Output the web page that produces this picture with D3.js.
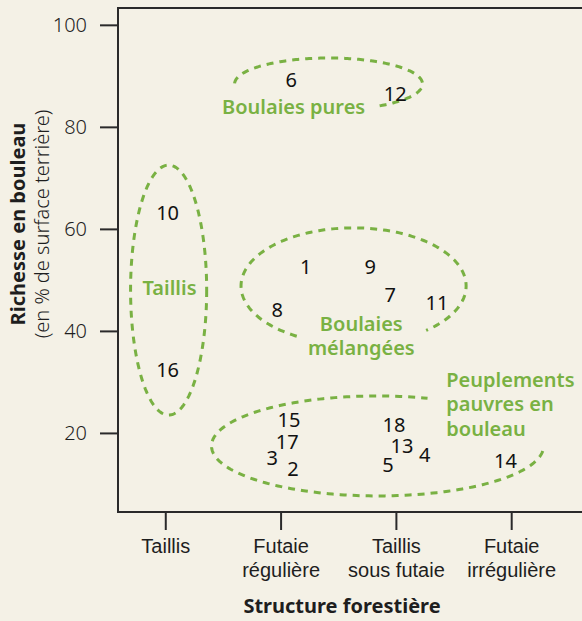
<!DOCTYPE html>
<html><head><meta charset="utf-8">
<script src="https://cdn.jsdelivr.net/npm/d3@7"></script>
<style>
html,body{margin:0;padding:0;background:#f4f1e6;}
svg{display:block;font-family:"Noto Sans",sans-serif;}
</style></head>
<body>
<svg id="chart" width="582" height="621"></svg>
<script>
// ---- data ----
const categories = [["Taillis"], ["Futaie", "régulière"], ["Taillis", "sous futaie"], ["Futaie", "irrégulière"]];
const yTicks = [20, 40, 60, 80, 100];
// stand numbers, position along structure axis (category index + jitter), birch richness (%)
const standIds = [6, 12, 10, 16, 1, 9, 7, 11, 8, 15, 17, 3, 2, 18, 13, 4, 5, 14];
const standX   = [1.093, 1.995, 0.02, 0.02, 1.217, 1.778, 1.951, 2.356, 0.971, 1.072, 1.058, 0.928, 1.107, 1.983, 2.052, 2.249, 1.931, 2.951];
const standY   = [89.2, 86.6, 63.2, 32.4, 52.6, 52.7, 47.1, 45.5, 44.1, 22.7, 18.3, 15.2, 13.1, 21.6, 17.6, 15.7, 13.9, 14.6];
// groups (ellipses in data units)
const groupNames = ["Boulaies pures", "Taillis", "Boulaies mélangées", "Peuplements pauvres en bouleau"];
const groupCx = [1.416, 0.029, 1.633, 1.841];
const groupCy = [88.4, 48.0, 48.8, 17.45];
const groupRx = [0.815, 0.33, 0.976, 1.44];
const groupRy = [5.1, 24.5, 11.4, 9.8];
const groupLabelLines = [["Boulaies pures"], ["Taillis"], ["Boulaies", "mélangées"], ["Peuplements", "pauvres en", "bouleau"]];
const groupLabelX = [1.113, 0.037, 1.70, 2.437];
const groupLabelY = [84.1, 48.6, 41.6, 30.6];

// ---- drawing ----
const W = 582, H = 621;
const green = "#79b143", ink = "#1e1e1e", bg = "#f4f1e6";
const FS = 20;
const svg = d3.select("#chart");
svg.append("rect").attr("width", W).attr("height", H).attr("fill", bg);

const x = d3.scaleLinear().domain([-0.41, 3.614]).range([118, 582]);
const y = d3.scaleLinear().domain([4.5, 103.3]).range([512, 8]);

// frame (left, top, bottom)
svg.append("path")
  .attr("d", `M${W},${y(103.3)}H${x(-0.41)}V${y(4.5)}H${W}`)
  .attr("fill", "none").attr("stroke", "#2a2a2a").attr("stroke-width", 2);

// y axis
const yAxis = svg.append("g").attr("transform", `translate(${x(-0.41)},0)`)
  .call(d3.axisLeft(y).tickValues(yTicks).tickSize(18).tickPadding(13));
yAxis.select(".domain").remove();
yAxis.selectAll(".tick line").attr("stroke", "#2a2a2a").attr("stroke-width", 2);
yAxis.selectAll(".tick text").attr("fill", ink).attr("font-size", FS)
  .attr("font-family", '"Noto Sans",sans-serif').attr("font-weight", 300);

// x axis
const xAxis = svg.append("g").attr("transform", `translate(0,${y(4.5)})`)
  .call(d3.axisBottom(x).tickValues(d3.range(categories.length)).tickSize(18).tickFormat(""));
xAxis.select(".domain").remove();
xAxis.selectAll(".tick line").attr("stroke", "#2a2a2a").attr("stroke-width", 2);
xAxis.selectAll(".tick").each(function(d) {
  const t = d3.select(this).append("text").attr("fill", ink).attr("font-size", FS)
    .attr("font-weight", 300).attr("text-anchor", "middle");
  categories[d].forEach((line, k) => t.append("tspan").attr("x", 0).attr("y", 41 + k * 24).text(line));
});

// axis titles
svg.append("text").attr("x", 342).attr("y", 613).attr("text-anchor", "middle")
  .attr("font-size", FS).attr("font-weight", 700).attr("fill", ink).text("Structure forestière");
const yt = svg.append("text").attr("transform", "translate(0,224) rotate(-90)")
  .attr("text-anchor", "middle").attr("fill", ink).attr("font-size", FS);
yt.append("tspan").attr("x", 0).attr("y", 25).attr("font-weight", 700).text("Richesse en bouleau");
yt.append("tspan").attr("x", 0).attr("y", 49).attr("font-weight", 300).text("(en % de surface terrière)");

// ellipses (visible arcs, leaving room for labels)
const arcFrom = [-3.12, 0, 2.1, 0.1];
const arcTo   = [1.0, 2 * Math.PI, 0.87 + 2 * Math.PI, 2 * Math.PI - 1.265];
groupNames.forEach((g, i) => {
  const cx = x(groupCx[i]), cy = y(groupCy[i]);
  const rx = x(groupCx[i] + groupRx[i]) - cx, ry = cy - y(groupCy[i] + groupRy[i]);
  const pts = d3.range(0, 201).map(k => {
    const t = arcFrom[i] + (arcTo[i] - arcFrom[i]) * k / 200;
    return [cx + rx * Math.cos(t), cy + ry * Math.sin(t)];
  });
  svg.append("path").attr("d", d3.line()(pts)).attr("fill", "none")
    .attr("stroke", green).attr("stroke-width", 3).attr("stroke-dasharray", "7,6");
});

// group labels
groupLabelLines.forEach((lines, i) => {
  const anchor = i === 3 ? "start" : "middle";
  const t = svg.append("text").attr("fill", green).attr("font-size", FS).attr("font-weight", 600)
    .attr("text-anchor", anchor).attr("dominant-baseline", "central");
  lines.forEach((line, k) => t.append("tspan").attr("x", x(groupLabelX[i]))
    .attr("y", y(groupLabelY[i]) + k * 24.5).text(line));
});

// stand numbers
svg.append("g").selectAll("text").data(standIds).join("text")
  .attr("x", (d, i) => x(standX[i])).attr("y", (d, i) => y(standY[i]))
  .attr("text-anchor", "middle").attr("dominant-baseline", "central")
  .attr("font-size", FS).attr("fill", "#111").text(d => d);
</script>
</body></html>
